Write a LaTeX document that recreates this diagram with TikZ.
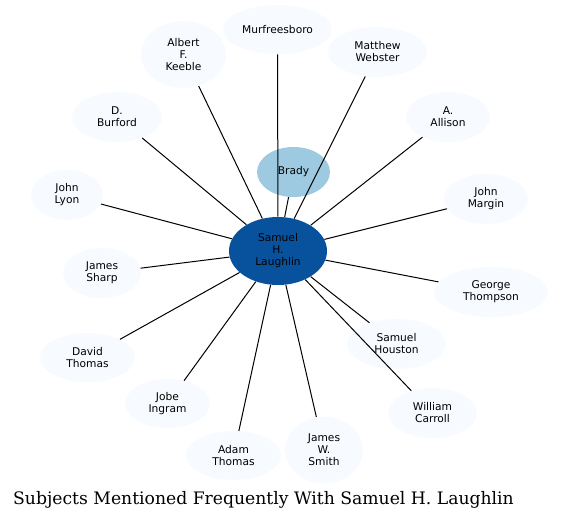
\documentclass[tikz,border=0pt]{standalone}
\usepackage{fontspec}
\setsansfont{DejaVu Sans}
\setmainfont{DejaVu Serif}
\usepackage{tikz}
\usetikzlibrary{shapes.geometric}
\usepackage{xcolor}
\definecolor{hubblue}{HTML}{08519C}
\definecolor{nearblue}{HTML}{9ECAE1}
\definecolor{leafblue}{HTML}{F7FBFF}

\begin{document}
\begin{tikzpicture}[x=0.75pt, y=-0.75pt, every node/.style={font=\sffamily\fontsize{8}{9}\selectfont, align=center},
    subj/.style={ellipse, fill=leafblue, inner sep=0pt},
    sz/.style 2 args={minimum width=#1*1.5pt, minimum height=#2*1.5pt}]

\useasboundingbox (0,0) rectangle (579,519);

% Central subject
\node[ellipse,fill=hubblue,inner sep=0pt,sz={49}{34}] at (278,251) (laughlin) {Samuel\\H.\\Laughlin};
\node[ellipse,fill=nearblue,inner sep=0pt,sz={36.5}{25}] at (293.5,172) (brady) {Brady};

% Subjects around it
\node[subj,sz={54.5}{24.5}] at (277.5,29.5) (murfreesboro) {Murfreesboro};
\node[subj,sz={42.5}{33.5}] at (183.5,54.5) (keeble) {Albert\\F.\\Keeble};
\node[subj,sz={49.5}{25}] at (377.5,52) (webster) {Matthew\\Webster};
\node[subj,sz={45}{25}] at (117,117) (burford) {D.\\Burford};
\node[subj,sz={42}{25}] at (448,117) (allison) {A.\\Allison};
\node[subj,sz={36}{25}] at (67,195) (lyon) {John\\Lyon};
\node[subj,sz={42}{25}] at (486,199) (margin) {John\\Margin};
\node[subj,sz={39}{25}] at (102,273) (sharp) {James\\Sharp};
\node[subj,sz={57}{25}] at (491,292) (thompson) {George\\Thompson};
\node[subj,sz={49.5}{25}] at (396.5,344) (houston) {Samuel\\Houston};
\node[subj,sz={47.5}{24.5}] at (87.5,357.5) (dthomas) {David\\Thomas};
\node[subj,sz={42.5}{24.5}] at (167.5,403.5) (ingram) {Jobe\\Ingram};
\node[subj,sz={44.5}{25}] at (432.5,413) (carroll) {William\\Carroll};
\node[subj,sz={47.5}{24.5}] at (233.5,455.5) (athomas) {Adam\\Thomas};
\node[subj,sz={39}{33.5}] at (324,450) (smith) {James\\W.\\Smith};

% Links to the centre
\foreach \other in {brady,murfreesboro,keeble,webster,burford,allison,lyon,margin,sharp,thompson,houston,dthomas,ingram,carroll,athomas,smith} {
    \draw[line width=0.75pt] (laughlin) -- (\other);
}

% Title
\node[font=\rmfamily\fontsize{12.9}{15}\selectfont,anchor=base] at (263.5,504) (title) {Subjects Mentioned Frequently With Samuel H. Laughlin};
\end{tikzpicture}
\end{document}
